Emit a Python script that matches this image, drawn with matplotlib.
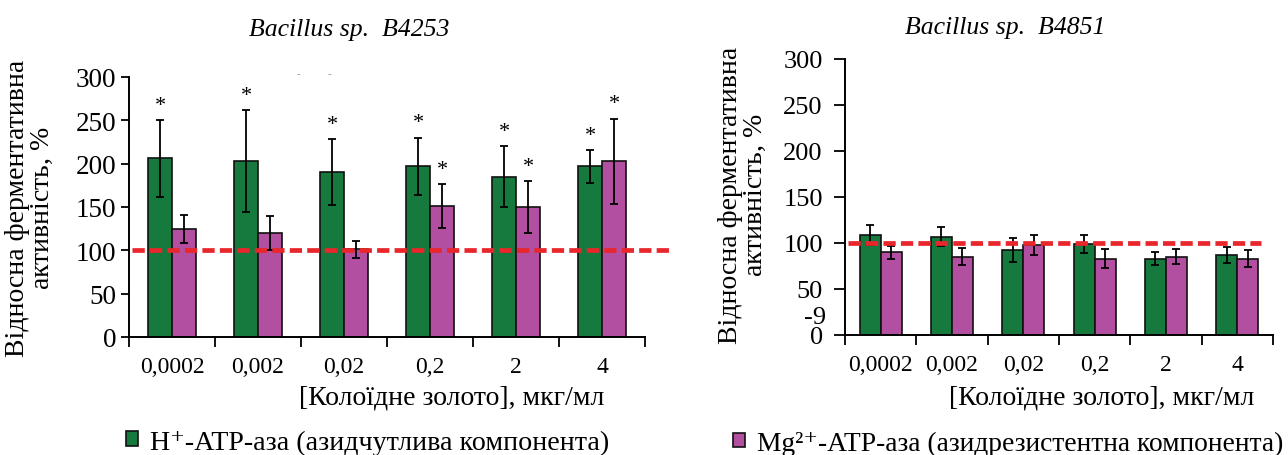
import matplotlib
matplotlib.use("Agg")
import matplotlib.pyplot as plt
import numpy as np

plt.rcParams.update({"font.family": ["Liberation Serif", "DejaVu Serif"],
                     "mathtext.fontset": "custom",
                     "mathtext.rm": "Liberation Serif",
                     "mathtext.it": "Liberation Serif:italic",
                     "axes.spines.top": False, "axes.spines.right": False})

GREEN, MAGENTA, RED = "#167a3e", "#b24fa0", "#e8262b"

doses = ["0,0002", "0,002", "0,02", "0,2", "2", "4"]

# Bacillus sp. B4253
b4253_h = [206, 203, 190, 197, 185, 197]
b4253_h_err = [44, 59, 38, 33, 35, 19]
b4253_mg = [125, 120, 101, 151, 150, 203]
b4253_mg_err = [16, 20, 10, 25, 30, 49]
b4253_h_star = [True, True, True, True, True, True]
b4253_mg_star = [False, False, False, True, True, True]

# Bacillus sp. B4851
b4851_h = [109, 107, 92, 99, 83, 87]
b4851_h_err = [11, 10, 13, 10, 7, 9]
b4851_mg = [90, 85, 98, 83, 85, 83]
b4851_mg_err = [7, 9, 11, 10, 8, 9]

yticks = [0, 50, 100, 150, 200, 250, 300]
ylabel = "Відносна ферментативна\nактивність, $\\mathit{\\%}$"
xlabel = "[Колоїдне золото], мкг/мл"
leg_h = "H\u207a-ATP-аза (азидчутлива компонента)"
leg_mg = "Mg\u00b2\u207a-ATP-аза (азидрезистентна компонента)"


def panel(ax, h, h_err, mg, mg_err, w, line_end, h_star=None, mg_star=None):
    x = np.arange(len(doses))
    ek = dict(elinewidth=1.3, capsize=3.2, capthick=1.3, ecolor="black")
    bh = ax.bar(x - w / 2, h, w, yerr=h_err, color=GREEN, edgecolor="#111111",
                linewidth=1.2, error_kw=ek, zorder=2)
    bm = ax.bar(x + w / 2, mg, w, yerr=mg_err, color=MAGENTA, edgecolor="#111111",
                linewidth=1.2, error_kw=ek, zorder=2)
    ax.plot([-0.46, line_end], [100, 100], color=RED, lw=3.4, dashes=(2.6, 1.1),
            clip_on=False, zorder=3)
    if h_star is not None:
        for i in range(len(doses)):
            if h_star[i]:
                ax.text(i - w / 2, h[i] + h_err[i] + 17, "*", ha="center",
                        va="center", fontsize=16)
            if mg_star[i]:
                ax.text(i + w / 2, mg[i] + mg_err[i] + 17, "*", ha="center",
                        va="center", fontsize=16)
    ax.set_xlim(-0.5, len(doses) - 0.5)
    ax.set_ylim(0, 300)
    ax.set_yticks(yticks)
    ax.set_xticks(np.arange(len(doses) + 1) - 0.5)
    ax.set_xticklabels([])
    ax.set_xticks(x, minor=True)
    ax.set_xticklabels(doses, minor=True, fontsize=17)
    ax.tick_params(axis="x", which="minor", length=0, pad=14)
    ax.tick_params(axis="x", which="major", direction="out", length=7, width=1.3)
    ax.tick_params(axis="y", direction="out", length=6, width=1.3, labelsize=19.5, pad=3)
    for s in ("left", "bottom"):
        ax.spines[s].set_linewidth(1.4)
    ax.set_ylabel(ylabel, fontsize=20, linespacing=1.0)
    return bh, bm


fig = plt.figure(figsize=(12.88, 4.56), dpi=100)
ax1 = fig.add_axes([0.1002, 0.2588, 0.4006, 0.5702])
ax2 = fig.add_axes([0.656, 0.2632, 0.3323, 0.6053])

bh, bm = panel(ax1, b4253_h, b4253_h_err, b4253_mg, b4253_mg_err, 0.28, 5.8,
               b4253_h_star, b4253_mg_star)
panel(ax2, b4851_h, b4851_h_err, b4851_mg, b4851_mg_err, 0.295, 5.33)
ax2.tick_params(axis="y", length=8, pad=8, labelsize=19)

ax1.yaxis.set_label_coords(-0.143, 0.5)
ax2.yaxis.set_label_coords(-0.18, 0.51)

# stray label in the right panel
ax2.text(-0.045, 19, "-9", transform=ax2.get_yaxis_transform(), ha="right",
         va="center", fontsize=19)
# faint marks at the top of the left panel
fig.text(298 / 1288, 1 - 75 / 456, "-", fontsize=8, color="#999999", ha="center", va="center")
fig.text(329 / 1288, 1 - 75 / 456, "-", fontsize=8, color="#999999", ha="center", va="center")

fig.text(452 / 1288, 1 - 398 / 456, xlabel, ha="center", va="center", fontsize=20)
fig.text(1102 / 1288, 1 - 398 / 456, xlabel, ha="center", va="center", fontsize=20)

fig.text(349 / 1288, 1 - 30 / 456, "Bacillus sp.  B4253", ha="center", va="center",
         fontsize=18.5, style="italic")
fig.text(1005 / 1288, 1 - 28 / 456, "Bacillus sp.  B4851", ha="center", va="center",
         fontsize=18.5, style="italic")

kw = dict(frameon=False, handlelength=0.42, handleheight=0.42,
          handletextpad=0.45, borderpad=0, borderaxespad=0, loc="center left",
          bbox_transform=fig.transFigure)
fig.legend([bh], [leg_h], bbox_to_anchor=(126 / 1288, 1 - 443 / 456),
           fontsize=20.2, **kw)
fig.legend([bm], [leg_mg], bbox_to_anchor=(733 / 1288, 1 - 444 / 456),
           fontsize=19.8, **kw)

fig.savefig("out.png", dpi=100)
